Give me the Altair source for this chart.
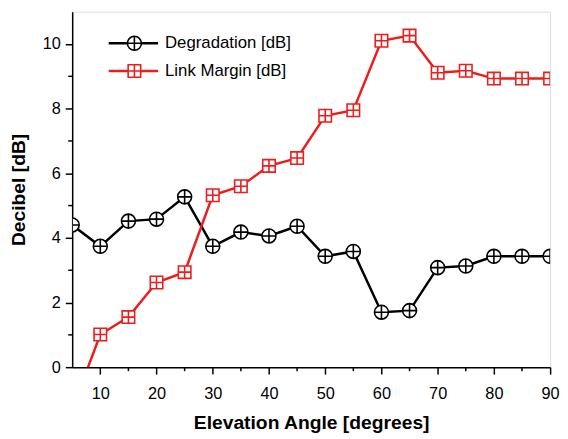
import altair as alt
import pandas as pd

angles = [5, 10, 15, 20, 25, 30, 35, 40, 45, 50, 55, 60, 65, 70, 75, 80, 85, 90]
degradation = [4.40, 3.74, 4.52, 4.58, 5.27, 3.74, 4.18, 4.06, 4.36, 3.43, 3.58, 1.70, 1.75, 3.08, 3.13, 3.43, 3.43, 3.43]
link_margin = [-1.30, 1.01, 1.55, 2.62, 2.94, 5.32, 5.60, 6.23, 6.47, 7.78, 7.95, 10.10, 10.26, 9.11, 9.17, 8.93, 8.93, 8.93]
series_names = ["Degradation [dB]", "Link Margin [dB]"]
series_colors = ["#000000", "#ee1c1c"]
x_major = [10, 20, 30, 40, 50, 60, 70, 80, 90]
x_minor = [15, 25, 35, 45, 55, 65, 75, 85]
y_major = [0, 2, 4, 6, 8, 10]
y_minor = [1, 3, 5, 7, 9]

circle_plus = "M-1,0A1,1,0,1,1,1,0A1,1,0,1,1,-1,0ZM-1,0L1,0M0,-1L0,1"
square_plus = "M-1,-1L1,-1L1,1L-1,1ZM-1,0L1,0M0,-1L0,1"
shapes = [circle_plus, square_plus]
sizes = [200, 160]

rows = []
for a, d, l in zip(angles, degradation, link_margin):
    rows.append({"angle": a, "value": d, "series": series_names[0]})
    rows.append({"angle": a, "value": l, "series": series_names[1]})
df = pd.DataFrame(rows)

FONT = "Liberation Sans"
W, H = 484, 360
xscale = alt.Scale(domain=[5, 90], nice=False, zero=False)
yscale = alt.Scale(domain=[0, 11], nice=False, zero=False)
cscale = alt.Scale(domain=series_names, range=series_colors)
sscale = alt.Scale(domain=series_names, range=shapes)
zscale = alt.Scale(domain=series_names, range=sizes)

x_axis = alt.Axis(values=x_major, title="Elevation Angle [degrees]",
                  tickSize=7, tickWidth=1.5, domainWidth=1.5, domainColor="black", tickColor="black",
                  grid=False, labelFont=FONT, labelFontSize=16.5, labelColor="black", labelPadding=12,
                  labelOverlap=False, labelFlush=False,
                  titleFont=FONT, titleFontSize=19.5, titleFontWeight="bold", titleColor="black",
                  titlePadding=12)
y_axis = alt.Axis(values=y_major, title="Decibel [dB]",
                  tickSize=7, tickWidth=1.5, domainWidth=1.5, domainColor="black", tickColor="black",
                  grid=False, labelFont=FONT, labelFontSize=16.5, labelColor="black", labelPadding=5,
                  labelOverlap=False, labelFlush=False,
                  titleFont=FONT, titleFontSize=19.5, titleFontWeight="bold", titleColor="black",
                  titlePadding=14)

base = alt.Chart(df)
lines = base.mark_line(strokeWidth=2.5, clip=True).encode(
    x=alt.X("angle:Q", scale=xscale, axis=x_axis),
    y=alt.Y("value:Q", scale=yscale, axis=y_axis),
    color=alt.Color("series:N", scale=cscale, legend=None),
)
points = base.mark_point(fill="white", filled=False, strokeWidth=1.6, opacity=1, clip=True).encode(
    x=alt.X("angle:Q", scale=xscale),
    y=alt.Y("value:Q", scale=yscale),
    stroke=alt.Stroke("series:N", scale=cscale, legend=None),
    shape=alt.Shape("series:N", scale=sscale, legend=None),
    size=alt.Size("series:N", scale=zscale, legend=None),
)

# minor ticks, positioned through the same scales
minor_x = alt.Chart(pd.DataFrame({"xm": x_minor})).mark_tick(
    orient="vertical", size=4, thickness=1.5, color="black", opacity=1
).encode(
    x=alt.X("xm:Q", scale=xscale),
    y=alt.value(H + 2),
)
minor_y = alt.Chart(pd.DataFrame({"ym": y_minor})).mark_tick(
    orient="horizontal", size=4, thickness=1.5, color="black", opacity=1
).encode(
    y=alt.Y("ym:Q", scale=yscale),
    x=alt.value(-2),
)

# manual legend
leg_df = pd.DataFrame({"label": series_names, "row": [0, 1]})
leg = alt.Chart(leg_df).transform_calculate(
    ly="32 + datum.row * 28", lx1="37", lx2="87", lxm="63", ltx="94"
)
leg_line = leg.mark_rule(strokeWidth=2.5).encode(
    x=alt.X("lx1:Q", scale=None, axis=None), x2="lx2:Q", y=alt.Y("ly:Q", scale=None, axis=None),
    color=alt.Color("label:N", scale=cscale, legend=None),
)
leg_pt = leg.mark_point(fill="white", filled=False, strokeWidth=1.6, opacity=1).encode(
    x=alt.X("lxm:Q", scale=None, axis=None), y=alt.Y("ly:Q", scale=None, axis=None),
    stroke=alt.Stroke("label:N", scale=cscale, legend=None),
    shape=alt.Shape("label:N", scale=sscale, legend=None),
    size=alt.Size("label:N", scale=zscale, legend=None),
)
leg_txt = leg.mark_text(align="left", baseline="middle", font=FONT, fontSize=17, color="black").encode(
    x=alt.X("ltx:Q", scale=None, axis=None), y=alt.Y("ly:Q", scale=None, axis=None), text="label:N",
)

chart = alt.layer(lines, points, minor_x, minor_y, leg_line, leg_pt, leg_txt).properties(
    width=W, height=H,
    autosize=alt.AutoSizeParams(type="none"),
    padding={"left": 65, "top": 1, "right": 10, "bottom": 70},
).configure_view(stroke="black", strokeWidth=1.5).configure(background="white")

chart.save("out.html", embed_options={"renderer": "svg", "actions": False})
